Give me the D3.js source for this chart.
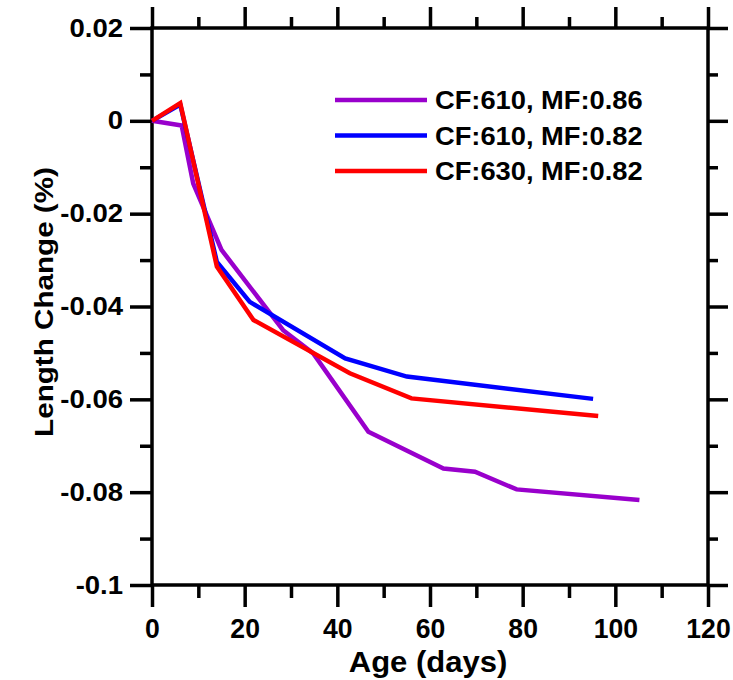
<!DOCTYPE html>
<html>
<head>
<meta charset="utf-8">
<script src="https://cdn.jsdelivr.net/npm/d3@7/dist/d3.min.js"></script>
<style>
  body { margin: 0; background: #fff; }
  text { font-family: "Liberation Sans", Arial, sans-serif; font-weight: bold; fill: #000; }
</style>
</head>
<body>
<div id="chart"></div>
<script>
// series: age in days, length change in %
var seriesNames = ["CF:610, MF:0.86", "CF:610, MF:0.82", "CF:630, MF:0.82"];
var seriesColors = ["#9900cc", "#0000ff", "#ff0000"];

var age1 = [0, 6.4, 8.9, 15, 28.3, 34.8, 46.7, 62.9, 69.7, 78.7, 105.2];
var len1 = [0, -0.001, -0.0135, -0.0278, -0.0451, -0.0501, -0.067, -0.0749, -0.0756, -0.0794, -0.0817];

var age2 = [0, 6.1, 14, 21.1, 41.7, 55, 95.2];
var len2 = [0, 0.0035, -0.0304, -0.039, -0.0512, -0.0551, -0.0599];

var age3 = [0, 6.1, 14, 21.9, 42.7, 56, 96.3];
var len3 = [0, 0.0038, -0.0314, -0.0429, -0.0544, -0.0598, -0.0636];

var xMajor = [0, 20, 40, 60, 80, 100, 120];
var xMinor = [10, 30, 50, 70, 90, 110];
var yMajor = [0.02, 0, -0.02, -0.04, -0.06, -0.08, -0.1];
var yMinor = [0.01, -0.01, -0.03, -0.05, -0.07, -0.09];
var yLabels = ["0.02", "0", "-0.02", "-0.04", "-0.06", "-0.08", "-0.1"];

var series = [
  {name: seriesNames[0], color: seriesColors[0], pts: age1.map(function(a, i) { return [a, len1[i]]; })},
  {name: seriesNames[1], color: seriesColors[1], pts: age2.map(function(a, i) { return [a, len2[i]]; })},
  {name: seriesNames[2], color: seriesColors[2], pts: age3.map(function(a, i) { return [a, len3[i]]; })}
];

var W = 733, H = 680;
// plot box (window.top is reserved, so own names)
var pL = 152, pR = 708, pT = 28, pB = 585;

var svg = d3.select("#chart").append("svg").attr("width", W).attr("height", H);

var x = d3.scaleLinear().domain([0, 120]).range([pL, pR]);
var y = d3.scaleLinear().domain([-0.1, 0.02]).range([pB, pT]);

// axes: major + minor on every side, labels only left & bottom
function styleAxis(g) {
  g.select(".domain").remove();
  g.selectAll(".tick line").attr("stroke", "#000").attr("stroke-width", 3.5);
}

var gx = svg.append("g").attr("transform", "translate(0," + pB + ")")
  .call(d3.axisBottom(x).tickValues(xMajor).tickSize(22).tickPadding(11).tickFormat(d3.format("d")));
gx.call(styleAxis);
gx.selectAll("text").style("font-size", "28px").attr("transform", "scale(0.95,1)");
svg.append("g").attr("transform", "translate(0," + pB + ")")
  .call(d3.axisBottom(x).tickValues(xMinor).tickSize(13).tickFormat("")).call(styleAxis);

svg.append("g").attr("transform", "translate(0," + pT + ")")
  .call(d3.axisTop(x).tickValues(xMajor).tickSize(21).tickFormat("")).call(styleAxis);
svg.append("g").attr("transform", "translate(0," + pT + ")")
  .call(d3.axisTop(x).tickValues(xMinor).tickSize(11).tickFormat("")).call(styleAxis);

var gy = svg.append("g").attr("transform", "translate(" + pL + ",0)")
  .call(d3.axisLeft(y).tickValues(yMajor).tickSize(22).tickPadding(7)
    .tickFormat(function(d, i) { return yLabels[i]; }));
gy.call(styleAxis);
gy.selectAll("text").style("font-size", "25px")
  .attr("x", -29 / 1.1).attr("transform", "scale(1.1,1)");
svg.append("g").attr("transform", "translate(" + pL + ",0)")
  .call(d3.axisLeft(y).tickValues(yMinor).tickSize(12).tickFormat("")).call(styleAxis);

svg.append("g").attr("transform", "translate(" + pR + ",0)")
  .call(d3.axisRight(y).tickValues(yMajor).tickSize(20).tickFormat("")).call(styleAxis);
svg.append("g").attr("transform", "translate(" + pR + ",0)")
  .call(d3.axisRight(y).tickValues(yMinor).tickSize(10).tickFormat("")).call(styleAxis);

// frame
svg.append("rect")
  .attr("x", pL).attr("y", pT)
  .attr("width", pR - pL).attr("height", pB - pT)
  .attr("fill", "none").attr("stroke", "#000").attr("stroke-width", 3.5);

// lines
var line = d3.line().x(function(d) { return x(d[0]); }).y(function(d) { return y(d[1]); });

svg.selectAll(".series")
  .data(series)
  .enter().append("path")
  .attr("class", "series")
  .attr("d", function(d) { return line(d.pts); })
  .attr("fill", "none")
  .attr("stroke", function(d) { return d.color; })
  .attr("stroke-width", 4.5)
  .attr("stroke-linejoin", "miter");

// legend
var leg = svg.selectAll(".leg")
  .data(series)
  .enter().append("g")
  .attr("class", "leg")
  .attr("transform", function(d, i) { return "translate(335," + (100 + i * 35.5) + ")"; });
leg.append("line")
  .attr("x1", 0).attr("x2", 92).attr("y1", 0).attr("y2", 0)
  .attr("stroke", function(d) { return d.color; }).attr("stroke-width", 4.5);
leg.append("text")
  .attr("x", 100 / 1.05).attr("y", 9)
  .attr("transform", "scale(1.05,1)")
  .style("font-size", "26px")
  .text(function(d) { return d.name; });

// axis titles
svg.append("text")
  .attr("transform", "translate(428,672) scale(1.07,1)")
  .attr("text-anchor", "middle")
  .style("font-size", "29px")
  .text("Age (days)");

svg.append("text")
  .attr("transform", "translate(53,302) rotate(-90) scale(1.14,1)")
  .attr("text-anchor", "middle")
  .style("font-size", "26px")
  .text("Length Change (%)");
</script>
</body>
</html>
